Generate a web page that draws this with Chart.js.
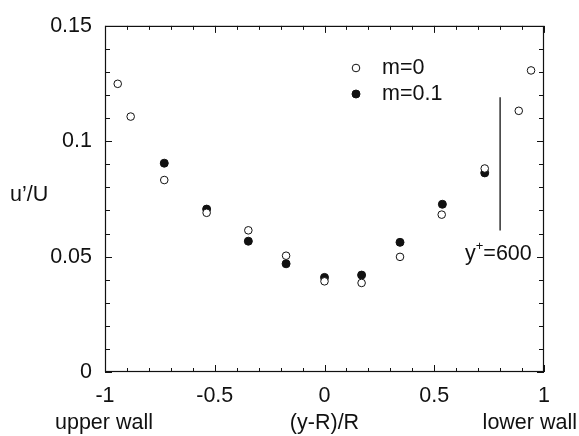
<!DOCTYPE html>
<html>
<head>
<meta charset="utf-8">
<script src="https://cdn.jsdelivr.net/npm/chart.js@4"></script>
<style>
  html, body { margin: 0; padding: 0; background: #fff; }
  canvas { display: block; }
</style>
</head>
<body>
<canvas id="chart" width="579" height="436"></canvas>
<script>
// data
const posM0 = [-0.942, -0.883, -0.730, -0.537, -0.347, -0.175, 0.0, 0.169, 0.344, 0.534, 0.730, 0.885, 0.941];
const urmsM0 = [0.1249, 0.1107, 0.0832, 0.0690, 0.0614, 0.0504, 0.0393, 0.0386, 0.0499, 0.0682, 0.0882, 0.1132, 0.1307];
const posM01 = [-0.730, -0.537, -0.347, -0.175, 0.0, 0.169, 0.344, 0.537, 0.730];
const urmsM01 = [0.0905, 0.0706, 0.0567, 0.0469, 0.0410, 0.0420, 0.0562, 0.0727, 0.0863];
const seriesLabels = ['m=0', 'm=0.1'];
// y+ = 600 scale bar
const barX = [0.80, 0.80];
const barY = [0.0613, 0.1191];

const FAMILY = '"Liberation Sans", Arial, sans-serif';
const FONT = '21.5px ' + FAMILY;
const INK = '#111';

const toPoints = (xs, ys) => xs.map((x, i) => ({ x: x, y: ys[i] }));

// box, inward ticks, legend and free texts
const decorations = {
    id: 'decorations',
    afterDraw(chart) {
        const ctx = chart.ctx;
        const a = chart.chartArea;
        const xs = chart.scales.x;
        const ys = chart.scales.y;
        ctx.save();
        ctx.strokeStyle = INK;
        ctx.lineWidth = 1.2;
        ctx.strokeRect(a.left + 0.5, a.top + 0.5, a.right - a.left - 1, a.bottom - a.top - 1);

        ctx.beginPath();
        for (let i = -10; i <= 10; i++) {
            const px = Math.round(xs.getPixelForValue(i / 10)) + 0.5;
            const len = i % 5 === 0 ? 7 : 4;
            ctx.moveTo(px, a.bottom); ctx.lineTo(px, a.bottom - len);
            ctx.moveTo(px, a.top); ctx.lineTo(px, a.top + len);
        }
        for (let i = 0; i <= 15; i++) {
            const py = Math.round(ys.getPixelForValue(i / 100)) + 0.5;
            const len = i % 5 === 0 ? 7 : 5;
            ctx.moveTo(a.left, py); ctx.lineTo(a.left + len, py);
            ctx.moveTo(a.right, py); ctx.lineTo(a.right - len, py);
        }
        ctx.lineWidth = 1;
        ctx.stroke();

        // legend
        const lx = 356;
        const rows = [68, 94];
        chart.data.datasets.slice(0, 2).forEach((ds, i) => {
            ctx.beginPath();
            ctx.arc(lx, rows[i], ds.pointRadius, 0, Math.PI * 2);
            ctx.fillStyle = ds.pointBackgroundColor;
            ctx.fill();
            ctx.lineWidth = 1;
            ctx.strokeStyle = INK;
            ctx.stroke();
            ctx.fillStyle = INK;
            ctx.font = FONT;
            ctx.textAlign = 'left';
            ctx.textBaseline = 'middle';
            ctx.fillText(ds.label, 382, rows[i]);
        });

        ctx.fillStyle = INK;
        ctx.font = FONT;
        ctx.textBaseline = 'middle';

        // y+ = 600
        ctx.textAlign = 'left';
        let tx = 465;
        const ty = 254;
        ctx.fillText('y', tx, ty);
        tx += ctx.measureText('y').width;
        ctx.font = '13px ' + FAMILY;
        ctx.fillText('+', tx, ty - 8);
        tx += ctx.measureText('+').width;
        ctx.font = FONT;
        ctx.fillText('=600', tx, ty);

        // axis texts
        ctx.textAlign = 'left';
        ctx.fillText('u\u2019/U', 10, 195);
        ctx.fillText('upper wall', 55, 423);
        ctx.textAlign = 'center';
        ctx.fillText('(y-R)/R', xs.getPixelForValue(0), 423);
        ctx.textAlign = 'right';
        ctx.fillText('lower wall', 577, 423);
        ctx.restore();
    }
};

new Chart(document.getElementById('chart'), {
    type: 'scatter',
    data: {
        datasets: [{
            label: seriesLabels[0],
            data: toPoints(posM0, urmsM0),
            pointRadius: 3.8,
            pointBackgroundColor: '#fff',
            pointBorderColor: INK,
            pointBorderWidth: 1,
            showLine: false
        }, {
            label: seriesLabels[1],
            data: toPoints(posM01, urmsM01),
            pointRadius: 4,
            pointBackgroundColor: INK,
            pointBorderColor: INK,
            pointBorderWidth: 1,
            showLine: false
        }, {
            label: 'bar',
            data: toPoints(barX, barY),
            showLine: true,
            pointRadius: 0,
            borderColor: INK,
            borderWidth: 1.3
        }]
    },
    plugins: [decorations],
    options: {
        responsive: false,
        animation: false,
        layout: { padding: { top: 17, right: 35, left: 0, bottom: 0 } },
        plugins: {
            legend: { display: false },
            tooltip: { enabled: false }
        },
        scales: {
            x: {
                type: 'linear',
                min: -1,
                max: 1,
                afterFit: (s) => { s.height = 64; },
                grid: { display: false, drawTicks: false },
                border: { display: false },
                ticks: {
                    stepSize: 0.5,
                    padding: 11,
                    color: INK,
                    font: { family: FAMILY, size: 21.5 },
                    maxRotation: 0,
                    callback: (v) => String(parseFloat(v.toFixed(2)))
                }
            },
            y: {
                type: 'linear',
                min: 0,
                max: 0.15,
                afterFit: (s) => { s.width = 105; },
                grid: { display: false, drawTicks: false },
                border: { display: false },
                ticks: {
                    stepSize: 0.05,
                    padding: 13,
                    color: INK,
                    font: { family: FAMILY, size: 21.5 },
                    callback: (v) => String(parseFloat(v.toFixed(2)))
                }
            }
        }
    }
});
</script>
</body>
</html>
